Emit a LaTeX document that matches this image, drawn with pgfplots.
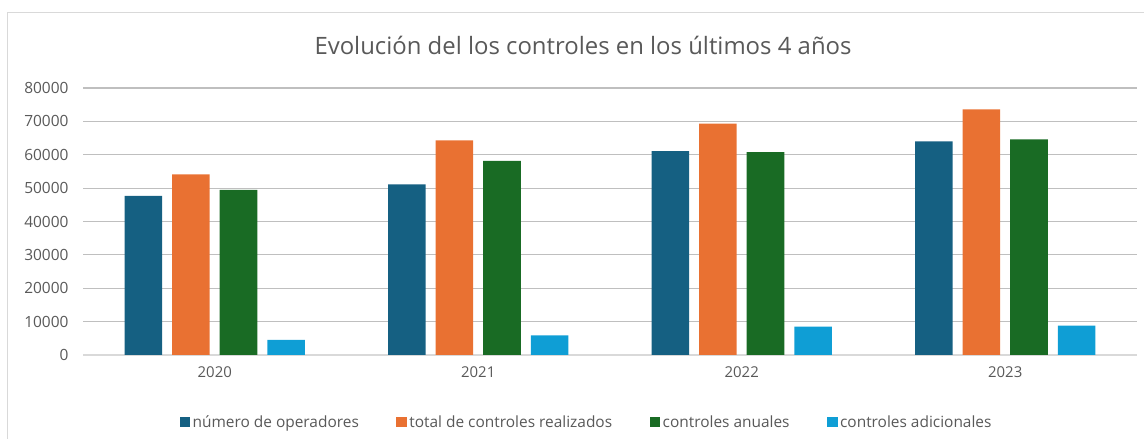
\documentclass[border=0pt]{standalone}
\usepackage{fontspec}
\setmainfont{Open Sans}
\usepackage{pgfplots}
\pgfplotsset{compat=1.18}
\definecolor{cA}{HTML}{156082}
\definecolor{cB}{HTML}{E97132}
\definecolor{cC}{HTML}{196B24}
\definecolor{cD}{HTML}{0F9ED5}
\definecolor{txt}{HTML}{595959}
\definecolor{grid}{HTML}{D9D9D9}
\begin{document}
\begin{tikzpicture}
\path[use as bounding box] (0,0) rectangle (1144bp,439bp);
\draw[grid, line width=1bp] (7bp,0bp) -- (7bp,426bp) -- (1144bp,426bp);
\node[txt, font=\fontsize{24}{28}\selectfont] at (583bp,394bp) {Evolución del los controles en los últimos 4 años};
\begin{axis}[
  at={(83bp,84bp)}, anchor=south west,
  scale only axis, width=1054bp, height=267bp,
  ybar=10bp, bar width=37.6bp,
  xmin=-0.5, xmax=3.5, ymin=0, ymax=80000,
  xtick=data, xticklabels={2020,2021,2022,2023},
  ytick={0,10000,...,80000},
  axis line style={draw=none},
  axis x line*=bottom,
  x axis line style={draw=grid, line width=1.2bp},
  major tick length=0pt, tick style={draw=none},
  xmajorgrids=false, ymajorgrids=true, grid style={grid, line width=1.2bp},
  /pgf/number format/assume math mode=true,
  /pgf/number format/fixed, /pgf/number format/1000 sep={},
  scaled y ticks=false,
  tick label style={txt, font=\fontsize{15.5}{18}\selectfont},
  yticklabel style={xshift=-11bp},
  xticklabel style={yshift=-8bp, font=\fontsize{15}{18}\selectfont},
  legend columns=4,
  legend style={draw=none, at={(0.478,-0.252)}, anchor=center, font=\fontsize{15.5}{18}\selectfont, text=txt,
    /tikz/every even column/.append style={column sep=35bp}, nodes={inner sep=2.5bp}},
  legend image code/.code={\fill[#1] (0bp,-5bp) rectangle (10.5bp,5.5bp);},
]
\addplot[fill=cA, draw=none] coordinates {(0,47700) (1,51100) (2,61100) (3,64000)};
\addplot[fill=cB, draw=none] coordinates {(0,54100) (1,64300) (2,69300) (3,73600)};
\addplot[fill=cC, draw=none] coordinates {(0,49500) (1,58200) (2,60800) (3,64600)};
\addplot[fill=cD, draw=none] coordinates {(0,4500) (1,5900) (2,8500) (3,8800)};
\legend{número de operadores, total de controles realizados, controles anuales, controles adicionales}
\end{axis}
\end{tikzpicture}
\end{document}
